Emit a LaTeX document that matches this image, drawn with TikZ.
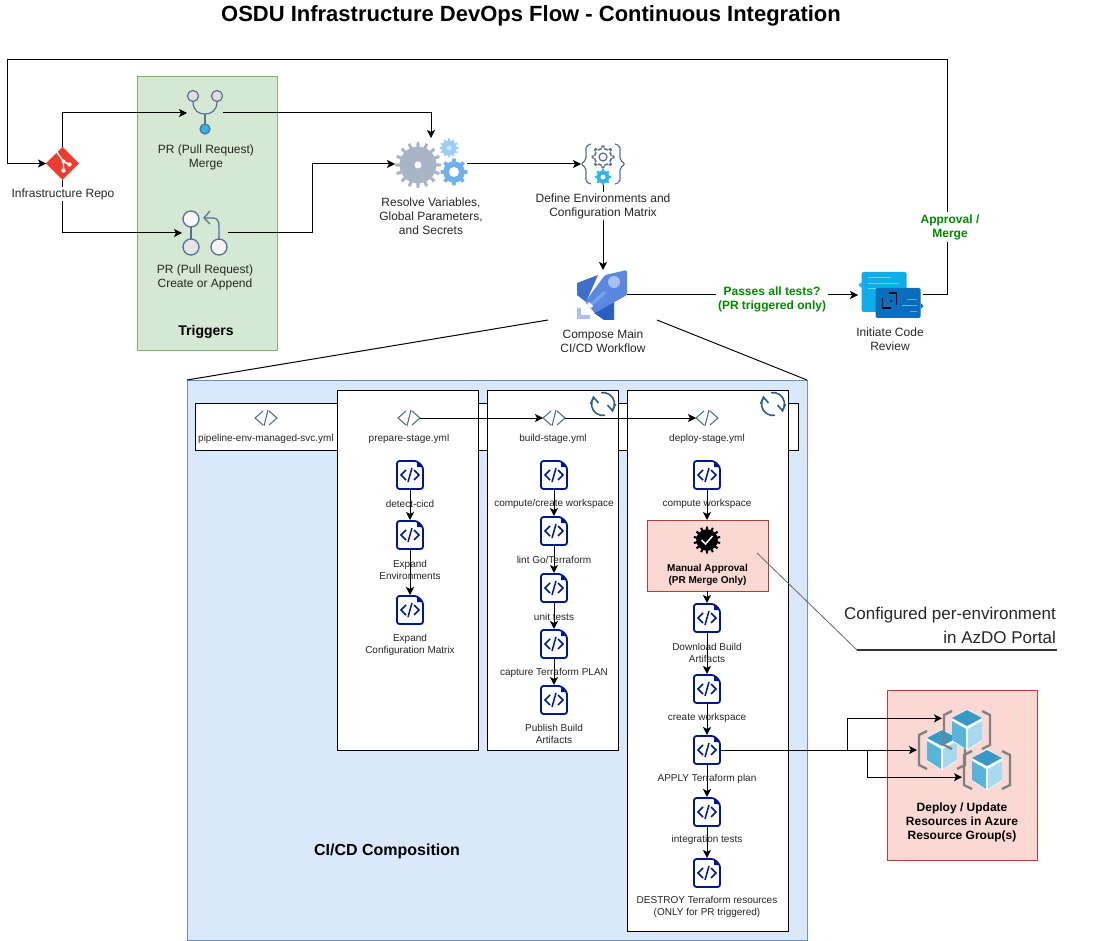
\documentclass[tikz,border=0pt]{standalone}
\usepackage{fontspec}
\setmainfont{Liberation Sans}
\usetikzlibrary{arrows.meta, shapes.geometric}
\definecolor{cInk}{HTML}{262626}
\definecolor{cGreen}{HTML}{008A00}
\definecolor{cTrigBg}{HTML}{D5E8D4}
\definecolor{cTrigLn}{HTML}{82B366}
\definecolor{cCompBg}{HTML}{DAE8FC}
\definecolor{cCompLn}{HTML}{6C8EBF}
\definecolor{cRedBg}{HTML}{FAD9D5}
\definecolor{cRedLn}{HTML}{AE4132}
\definecolor{cSlate}{HTML}{5A6F96}
\definecolor{cTag}{HTML}{50677A}
\definecolor{cNavy}{HTML}{00188F}
\definecolor{cSky}{HTML}{2EB5EE}
\definecolor{cRefresh}{HTML}{2E6080}
\definecolor{cGearA}{HTML}{A9B4C6}
\definecolor{cGearB}{HTML}{9ECDF5}
\definecolor{cGearC}{HTML}{6DB1EE}
\definecolor{cRepo}{HTML}{F03C2E}
\definecolor{cRockA}{HTML}{3F6FC9}
\definecolor{cRockB}{HTML}{2A5FC4}
\definecolor{cRockC}{HTML}{5B87E0}
\definecolor{cRockD}{HTML}{A9BFEF}
\definecolor{cRockE}{HTML}{7CA1EA}
\definecolor{cRevA}{HTML}{0FAEEB}
\definecolor{cRevB}{HTML}{0A6EBD}
\definecolor{cRevC}{HTML}{6FD3F5}
\definecolor{cube1}{HTML}{3999C6}
\definecolor{cube2}{HTML}{59B4D9}
\definecolor{cube3}{HTML}{A8D9EE}
\tikzset{
  >={Stealth[length=8pt,width=8pt,inset=2pt]},
  conn/.style={->, draw=black, line width=1pt},
  panel/.style 2 args={draw=#1, fill=#2, line width=1pt, inner sep=0pt, outer sep=0pt},
  stagebox/.style={draw=black, fill=white, line width=1pt, inner sep=0pt, outer sep=0pt},
  iconbox/.style={inner sep=0pt, outer sep=0pt},
  lbl/.style={align=center, inner sep=1pt, yshift=-1pt, text=cInk, font=\fontsize{12}{14}\selectfont},
  lblw/.style={lbl, fill=white},
  small/.style={align=center, inner sep=0pt, yshift=-1pt, text=cInk, font=\fontsize{10}{12}\selectfont},
  boldlbl/.style={lbl, text=black, font=\fontsize{12}{14}\selectfont\bfseries},
  greenlbl/.style={align=center, inner sep=2pt, yshift=-1pt, fill=white, text=cGreen, font=\fontsize{12}{14}\selectfont\bfseries},
  codefile/.pic={
    \draw[cNavy, fill=white, line width=1.8pt, rounded corners=2.5pt] (-13,-14) -- (7,-14) -- (13,-8) -- (13,14) -- (-13,14) -- cycle;
    \fill[cNavy] (7,-14) -- (13,-8) -- (7,-8) -- cycle;
    \draw[cNavy, line width=1.5pt] (-4,-5) -- (-9,0) -- (-4,5) (4,-5) -- (9,0) -- (4,5) (-2,7) -- (2,-7);
  },
  codetag/.pic={
    \draw[cTag, line width=1pt] (-3,-7) -- (-11,0) -- (-3,7) (3,-7) -- (11,0) -- (3,7) (-2,8) -- (2,-8);
  },
  refresh/.pic={
    \draw[cRefresh, line width=1.6pt] (-100:11.5) arc (-100:35:11.5) (80:11.5) arc (80:215:11.5);
    \draw[cRefresh, line width=1.6pt] (4.5,1) -- (9.5,6.8) -- (12.5,0);
    \draw[cRefresh, line width=1.6pt] (-4.5,-1) -- (-9.5,-6.8) -- (-12.5,0);
  },
  cubeicon/.pic={
    \fill[white] (-15,-12) -- (0,-21) -- (15,-12) -- (15,11) -- (0,20) -- (-15,11) -- cycle;
    \fill[cube1] (0,-20) -- (15,-12) -- (0,-4) -- (-15,-12) -- cycle;
    \fill[cube2] (-15,-9) -- (-1,-1) -- (-1,19) -- (-15,10) -- cycle;
    \fill[cube3] (15,-9) -- (1,-1) -- (1,19) -- (15,10) -- cycle;
    \draw[gray, line width=2.4pt] (-15,-19) -- (-23,-15) -- (-23,15) -- (-15,19) (15,-19) -- (23,-15) -- (23,15) -- (15,19);
  },
}
\newcommand{\gearicon}[5]{%
  \pgfmathsetmacro{\toothbase}{1.5*#3/#4}
  \pgfmathsetmacro{\toothtop}{1.0*#3/#4}
  \fill[#5] (#1,#2) circle ({0.8*#3});
  \foreach \toothno in {1,...,#4}{
    \fill[#5, shift={(#1,#2)}, rotate=\toothno*360/#4] (-\toothbase,0) -- (-\toothtop,#3) -- (\toothtop,#3) -- (\toothbase,0) -- cycle;
  }
}
\newcommand{\codefilenode}[2]{\node[iconbox, minimum width=28pt, minimum height=30pt] (#1) at (#2) {}; \pic at (#1) {codefile};}
\newcommand{\codetagnode}[2]{\node[iconbox, minimum width=22pt, minimum height=16pt] (#1) at (#2) {}; \pic at (#1) {codetag};}

\begin{document}
\begin{tikzpicture}[x=1pt, y=-1pt]
\useasboundingbox (0,0) rectangle (1098,941);

\node[font=\fontsize{22}{26}\selectfont\bfseries] (title) at (531,16) {OSDU Infrastructure DevOps Flow - Continuous Integration};

% ===================== panels =====================
\node[panel={cTrigLn}{cTrigBg}, minimum width=140.5pt, minimum height=274pt] (trigbox) at (207.5,214) {};
\node[panel={cCompLn}{cCompBg}, minimum width=620pt, minimum height=560pt] (compbox) at (497,660) {};
\node[panel={cRedLn}{cRedBg}, minimum width=150pt, minimum height=170pt] (azbox) at (962,775) {};
\node[boldlbl, font=\fontsize{14}{17}\selectfont\bfseries] (triglbl) at (206,331) {Triggers};
\node[boldlbl, font=\fontsize{16}{19}\selectfont\bfseries] (complbl) at (387,850) {CI/CD Composition};

% ===================== top row icons =====================
\node[diamond, aspect=1, fill=cRepo, inner sep=0pt, outer sep=0pt, minimum width=33pt, minimum height=33pt] (repo) at (62.5,163.5) {};
\begin{scope}[shift={(repo)}]
  \draw[white, line width=1.4pt] (-6,-12) -- (1,-2) -- (1,7) (1,-2) -- (7,1);
  \fill[white] (1,-2) circle (2) (1,7) circle (2.2) (7,1) circle (2.2);
\end{scope}

\node[iconbox, minimum width=36pt, minimum height=45pt] (merge) at (205,113) {};
\begin{scope}[shift={(merge)}, cSlate, line width=1.2pt]
  \draw (-12,-11.5) .. controls (-12,-2) and (-6,1) .. (0,1) .. controls (6,1) and (12,-2) .. (12,-11.5);
  \draw (0,1) -- (0,11);
  \draw[fill=black!12] (-12,-17) circle (5.5) (12,-17) circle (5.5);
  \draw[fill=cSky] (0,16) circle (5);
\end{scope}

\node[iconbox, minimum width=46pt, minimum height=47pt] (create) at (205,233) {};
\begin{scope}[shift={(create)}, cSlate, line width=1.3pt]
  \draw (-14,-6) -- (-14,6);
  \draw[fill=black!3] (-14,-14) circle (8);
  \draw[fill=black!10] (-14,14) circle (8);
  \draw[fill=black!4] (14,14) circle (8);
  \draw (14,6) -- (14,-7) .. controls (14,-12) and (12,-15) .. (8,-15) -- (-1,-15);
  \draw (5,-22) -- (-1,-15) -- (5,-9);
\end{scope}

\node[iconbox, minimum width=72pt, minimum height=52pt] (gears) at (431,164) {};
\gearicon{418}{165}{23}{16}{cGearA}
\fill[white] (418,165) circle (3.5);
\gearicon{449}{148}{9.5}{12}{cGearB}
\fill[cGearB!50] (449,148) circle (2.5);
\gearicon{454}{172}{13.5}{8}{cGearC}
\fill[white] (454,172) circle (5);

\node[iconbox, minimum width=44pt, minimum height=42pt] (define) at (603,164) {};
\begin{scope}[shift={(define)}]
  \draw[cSlate, line width=1.2pt, rounded corners=2pt] (-12,-20) -- (-17,-18) -- (-17,-4) -- (-22,0) -- (-17,4) -- (-17,18) -- (-12,20);
  \draw[cSlate, line width=1.2pt, rounded corners=2pt] (12,-20) -- (17,-18) -- (17,-4) -- (22,0) -- (17,4) -- (17,18) -- (12,20);
  \gearicon{0}{-7}{11.5}{8}{cSlate}
  \gearicon{0}{-7}{9.3}{8}{white}
  \draw[cSlate, line width=1.2pt] (0,-7) circle (4);
  \gearicon{0}{13}{8}{8}{cSky}
  \fill[white] (0,13) circle (2.5);
\end{scope}

\node[iconbox, minimum width=50pt, minimum height=50pt] (compose) at (602,295) {};
\begin{scope}[shift={(compose)}]
  \fill[cRockA] (-25,-12) -- (-4,-20) -- (-16,7) -- (-25,0) -- cycle;
  \fill[cRockB] (12,-2) -- (12,25) -- (2,25) -- (-8,18) -- cycle;
  \fill[rounded corners=1.5pt, cRockC] (3,-20) -- (25,-25) -- (25,0) -- (-7,18) -- (-17,7) -- cycle;
  \fill[cRockD] (12,-13) circle (6);
  \draw[cRockE, line width=3pt] (3,-3) -- (-11,10);
  \draw[white, line width=3pt] (-14,8) -- (-10,12);
  \fill[cRockD] (-25,13) -- (-21,13) -- (-21,20) -- (-12,20) -- (-12,24) -- (-25,24) -- cycle;
\end{scope}

\node[iconbox, minimum width=65pt, minimum height=46pt] (review) at (890.5,295) {};
\begin{scope}[shift={(review)}]
  \fill[rounded corners=1.5pt, cRevA] (-29,-23) rectangle (16,17);
  \fill[cRevA] (-29,-13) -- (-32,-10) -- (-29,-7) -- cycle;
  \draw[cRevC, line width=1pt] (-23,-17) -- (0,-17) (-23,-11) -- (8,-11) (-23,-6) -- (-15,-6);
  \fill[rounded corners=1.5pt, cRevB] (-15,-7) rectangle (30,23);
  \fill[cRevB] (30,8) -- (33,11) -- (30,14) -- cycle;
  \draw[black, line width=1.2pt] (-8,3) -- (-8,13) -- (0,13) (-2,-2) -- (6,-2) -- (6,10);
  \fill[black] (0.5,6) circle (1);
  \draw[cRevC!70!cRevB, line width=1pt] (11,11) -- (26,11) (16,5) -- (26,5) (19,17) -- (26,17);
\end{scope}

% ===================== CI/CD composition =====================
\node[stagebox, minimum width=603pt, minimum height=47pt] (pipebox) at (496.5,426.5) {};
\node[stagebox, minimum width=141pt, minimum height=360pt] (prepbox) at (407.5,570) {};
\node[stagebox, minimum width=131pt, minimum height=360pt] (buildbox) at (552.5,570) {};
\node[stagebox, minimum width=161pt, minimum height=541pt] (depbox) at (707.5,660.5) {};
\node[panel={cRedLn}{cRedBg}, minimum width=121pt, minimum height=71pt] (approval) at (707.5,555.5) {};

\pic at (603,404) {refresh};
\pic at (773,404) {refresh};

\codetagnode{pipetag}{266,418}
\codetagnode{preptag}{409,418}
\codetagnode{buildtag}{554,418}
\codetagnode{deptag}{707,418}
\node[small] (pipelbl) at (266,438) {pipeline-env-managed-svc.yml};
\node[small] (preplbl) at (409,438) {prepare-stage.yml};
\node[small] (buildlbl) at (553,438) {build-stage.yml};
\node[small] (deplbl) at (707,438) {deploy-stage.yml};

% prepare
\codefilenode{detect}{410,475}
\codefilenode{expenv}{410,535}
\codefilenode{expcfg}{410,610}
\node[small] (detectlbl) at (410,503) {detect-cicd};
\node[small] (expenvlbl) at (410,569) {Expand\\Environments};
\node[small] (expcfglbl) at (410,644) {Expand\\Configuration Matrix};

% build
\codefilenode{compcreate}{554,475}
\codefilenode{lint}{554,531}
\codefilenode{unit}{554,588}
\codefilenode{capture}{554,644}
\codefilenode{publish}{554,700}
\node[small] (compcreatelbl) at (554,503) {compute/create workspace};
\node[small] (lintlbl) at (554,559) {lint Go/Terraform};
\node[small] (unitlbl) at (554,616) {unit tests};
\node[small] (capturelbl) at (554,672) {capture Terraform PLAN};
\node[small] (publishlbl) at (554,733) {Publish Build\\Artifacts};

% deploy
\codefilenode{compws}{707,475}
\codefilenode{download}{707,618}
\codefilenode{createws}{707,689}
\codefilenode{apply}{707,750}
\codefilenode{integ}{707,812}
\codefilenode{destroy}{707,873}
\node[small] (compwslbl) at (707,503) {compute workspace};
\gearicon{707}{540}{13.5}{14}{black}
\draw[white, line width=1.5pt] (701.5,540) -- (705.5,544) -- (712.5,536);
\node[small, text=black, font=\fontsize{10}{12}\selectfont\bfseries] (approvallbl) at (707.5,574) {Manual Approval\\(PR Merge Only)};
\node[small] (downloadlbl) at (707,652) {Download Build\\Artifacts};
\node[small] (createwslbl) at (707,717) {create workspace};
\node[small] (applylbl) at (707,778) {APPLY Terraform plan};
\node[small] (integlbl) at (707,839) {integration tests};
\node[small] (destroylbl) at (707,906) {DESTROY Terraform resources\\(ONLY for PR triggered)};

% ===================== azure resources =====================
\node[iconbox, minimum width=50pt, minimum height=40pt] (cubeb) at (942,750) {};
\node[iconbox, minimum width=50pt, minimum height=40pt] (cubea) at (967,730) {};
\node[iconbox, minimum width=50pt, minimum height=40pt] (cubec) at (987,770) {};
\pic at (cubeb) {cubeicon};
\pic at (cubea) {cubeicon};
\pic at (cubec) {cubeicon};
\node[boldlbl] (azlbl) at (962,821) {Deploy / Update\\Resources in Azure\\Resource Group(s)};

% ===================== connectors =====================
\coordinate (topright) at (947,60);
\coordinate (topleft) at (7,60);
\coordinate (splita) at (847,750);
\coordinate (splitb) at (867,750);
\coordinate (calla) at (548,320);
\coordinate (callb) at (657,320);
\coordinate (noteleft) at (857,650);
\coordinate (noteright) at (1057,650);
\coordinate (notestart) at (757,553);

\draw[line width=1pt] (calla) -- (compbox.north west);
\draw[line width=1pt] (callb) -- (compbox.north east);

\draw[conn] (repo.north) |- (merge.west);
\draw[conn] (repo.south) |- (create.west);
\draw[conn] (merge.east) -| (gears.north);
\draw[conn] (create.east) -- (312,233) |- (gears.west);
\draw[conn] (gears.east) -- (define.west);
\draw[conn] (define.south) -- (define.south|-compose.north);
\draw[conn] (compose.east) -- (review.west);
\draw[conn] (review.east) -| (topright) -- (topleft) |- (repo.west);

\draw[conn] (preptag.east) -- (buildtag.west);
\draw[conn] (buildtag.east) -- (deptag.west);

\draw[conn] (detect.south) -- (expenv.north);
\draw[conn] (expenv.south) -- (expcfg.north);
\draw[conn] (compcreate.south) -- (lint.north);
\draw[conn] (lint.south) -- (unit.north);
\draw[conn] (unit.south) -- (capture.north);
\draw[conn] (capture.south) -- (publish.north);
\draw[conn] (compws.south) -- (compws.south|-approval.north);
\draw[conn] (download.north|-approval.south) -- (download.north);
\draw[conn] (download.south) -- (createws.north);
\draw[conn] (createws.south) -- (apply.north);
\draw[conn] (apply.south) -- (integ.north);
\draw[conn] (integ.south) -- (destroy.north);

\draw[conn] (apply.east) -- (cubeb.west);
\draw[conn] (splita) |- (cubea.155);
\draw[conn] (splitb) |- (cubec.196);

\draw[gray!80!black, line width=0.8pt] (notestart) -- (noteleft);
\draw[black!80, line width=2pt] (noteleft) -- (noteright);
\node[anchor=east, align=right, inner sep=0pt, text=cInk, font=\fontsize{17}{24}\selectfont] (note) at (1056,625) {Configured per-environment\\in AzDO Portal};

% ===================== labels =====================
\node[lblw] (repolbl) at (63,193) {Infrastructure Repo};
\node[lbl] (mergelbl) at (206,156) {PR (Pull Request)\\Merge};
\node[lbl] (createlbl) at (205,276) {PR (Pull Request)\\Create or Append};
\node[lbl] (gearslbl) at (431,215) {Resolve Variables,\\Global Parameters,\\and Secrets};
\node[lblw] (definelbl) at (603,205) {Define Environments and\\Configuration Matrix};
\node[lbl] (composelbl) at (603,340) {Compose Main\\CI/CD Workflow};
\node[lbl] (reviewlbl) at (890,338) {Initiate Code\\Review};
\node[greenlbl] (passlbl) at (772,298) {Passes all tests?\\(PR triggered only)};
\node[greenlbl] (approvelbl) at (950,226) {Approval /\\Merge};

\end{tikzpicture}
\end{document}
